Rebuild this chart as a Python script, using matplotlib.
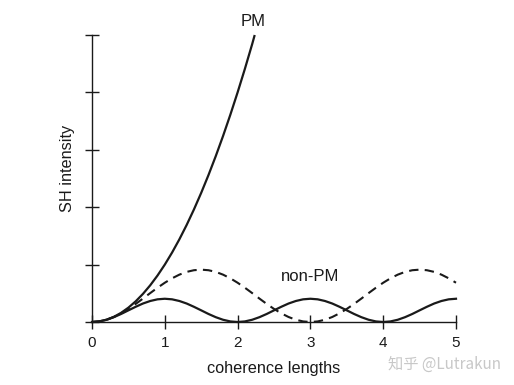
import numpy as np
import matplotlib
matplotlib.use('Agg')
import matplotlib.pyplot as plt

plt.rcParams['font.family'] = ['Liberation Sans', 'DejaVu Sans']

# values (y in tick units)
x_pm = [0, 0.1, 0.2, 0.3, 0.4, 0.5, 0.6, 0.7, 0.8, 0.9, 1.0, 1.1, 1.2, 1.3, 1.4,
        1.5, 1.6, 1.7, 1.8, 1.9, 2.0, 2.1, 2.2, 2.235]
y_pm = [0, 0.01, 0.04, 0.09, 0.16, 0.25, 0.36, 0.49, 0.64, 0.81, 1.0, 1.21, 1.44,
        1.69, 1.96, 2.25, 2.56, 2.89, 3.24, 3.61, 4.0, 4.41, 4.84, 5.0]

x_np = [round(0.1 * k, 1) for k in range(51)]
y_np_solid = [0, .010, .039, .084, .140, .203, .265, .322, .366, .395, .405,
              .395, .366, .322, .265, .203, .140, .084, .039, .010, 0,
              .010, .039, .084, .140, .203, .265, .322, .366, .395, .405,
              .395, .366, .322, .265, .203, .140, .084, .039, .010, 0,
              .010, .039, .084, .140, .203, .265, .322, .366, .395, .405]
y_np_dash = [0, .010, .039, .087, .151, .228, .315, .408, .504, .597, .684,
             .761, .825, .873, .902, .912,
             .902, .873, .825, .761, .684, .597, .504, .408, .315, .228, .151,
             .087, .039, .010, 0,
             .010, .039, .087, .151, .228, .315, .408, .504, .597, .684,
             .761, .825, .873, .902, .912,
             .902, .873, .825, .761, .684]

xticks = [0, 1, 2, 3, 4, 5]
yticks = [0, 1, 2, 3, 4, 5]

fig = plt.figure(figsize=(5.14, 3.85), dpi=100)
ax = fig.add_axes([92/514, 1-322/385, 364/514, 287/385])

lc = '#1a1a1a'
ax.plot(x_pm, y_pm, color=lc, lw=1.6, clip_on=False, solid_capstyle='butt')
ax.plot(x_np, y_np_solid, color=lc, lw=1.6, clip_on=False)
ax.plot(x_np, y_np_dash, color=lc, lw=1.5, ls=(0, (4.5, 3)), clip_on=False)

ax.set_xlim(0, 5)
ax.set_ylim(0, 5)
for s in ['top', 'right']:
    ax.spines[s].set_visible(False)
for s in ['left', 'bottom']:
    ax.spines[s].set_linewidth(1.0)
    ax.spines[s].set_color(lc)

ax.set_xticks(xticks)
ax.set_yticks(yticks)
ax.set_yticklabels([])
ax.tick_params(axis='both', direction='inout', length=10, width=1.0, color=lc,
               labelsize=11, labelcolor=lc, pad=5)

ax.set_xlabel('coherence lengths', fontsize=11.7, color=lc, labelpad=8)
ax.set_ylabel('SH intensity', fontsize=11.7, color=lc)
ax.yaxis.set_label_coords(-17/364, (322-168)/287)

ax.text(2.22, 5.1, 'PM', fontsize=12, color=lc, ha='center', va='bottom')
ax.text(3.0, 0.8, 'non-PM', fontsize=12, color=lc, ha='center', va='center')

fig.text(444/514, 1-364/385, '知乎 @Lutrakun', fontsize=11, color='#c8c8c8',
         family=['Noto Sans CJK SC', 'DejaVu Sans'], ha='center', va='center')

fig.savefig('out.png', dpi=100)
